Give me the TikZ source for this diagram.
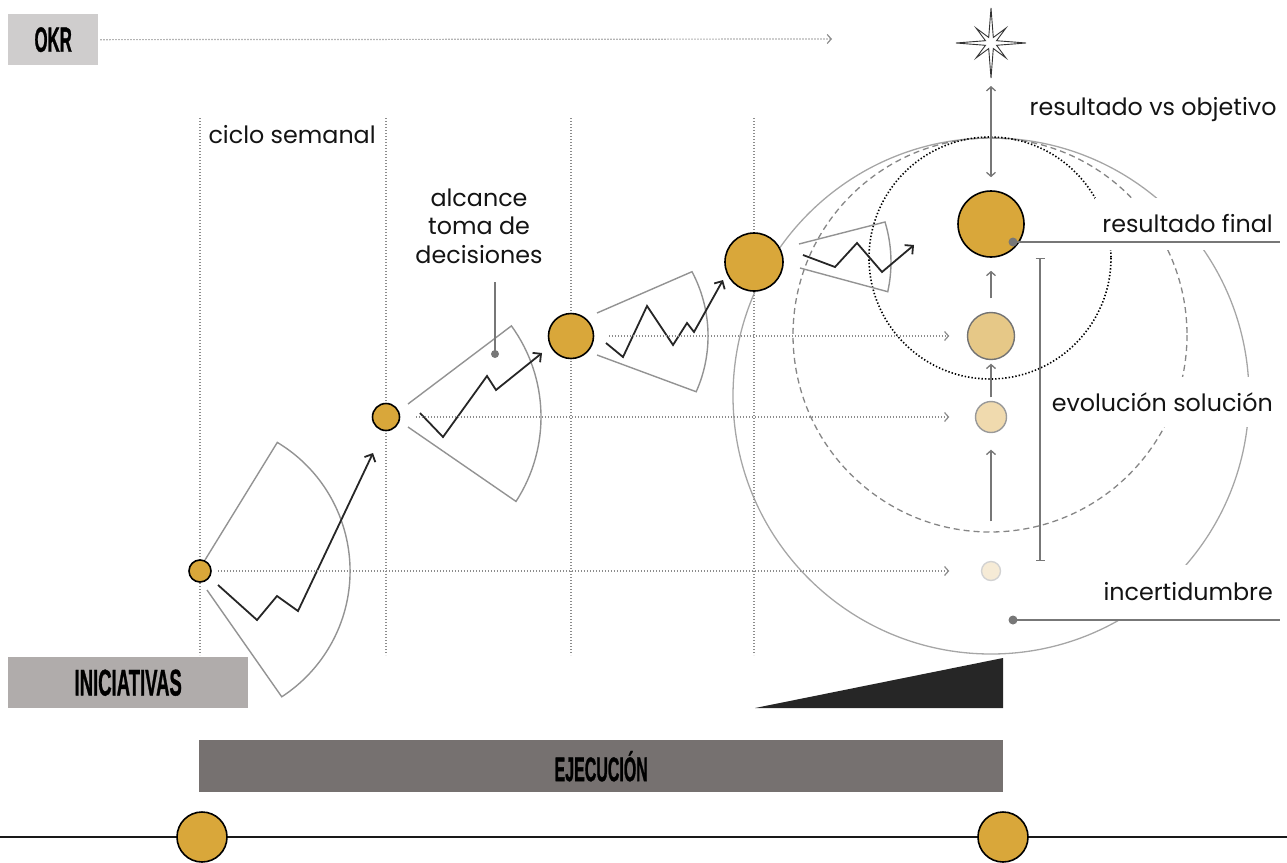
\documentclass[tikz,border=0pt]{standalone}
\usepackage{fontspec}
\setmainfont{Poppins}
\newfontfamily\headfont{Liberation Sans}[BoldFeatures={FakeBold=1.3}]
\usetikzlibrary{arrows.meta}
\definecolor{gold}{HTML}{D9A73A}
\definecolor{goldA}{HTML}{E6C887}
\definecolor{goldB}{HTML}{F0DAAE}
\definecolor{goldC}{HTML}{F6EBD6}
\definecolor{okrgray}{HTML}{CFCDCD}
\definecolor{inigray}{HTML}{B0ACAB}
\definecolor{ejegray}{HTML}{767170}
\definecolor{trigray}{HTML}{262626}
\definecolor{lgray}{HTML}{8C8C8C}
\definecolor{mgray}{HTML}{777777}
\newcommand{\hdr}[3]{\scalebox{#2}[1]{\headfont\bfseries\fontsize{#1}{#1}\selectfont #3}}
\begin{document}
\begin{tikzpicture}[x=1pt,y=-1pt,
  dot/.style={circle, draw=black, line width=1.6pt, fill=gold, inner sep=0pt},
  softdot/.style={circle, line width=1.4pt, inner sep=0pt},
  lbl/.style={font=\fontsize{23.8}{28.5}\selectfont, text=black!92},
  sidelbl/.style={lbl, anchor=east, fill=white, inner xsep=7pt},
  vline/.style={draw=lgray, line width=1.2pt, dash pattern=on 1.2pt off 1.8pt},
  harrow/.style={draw=lgray, line width=1.2pt, dash pattern=on 1.2pt off 1.8pt, -{Straight Barb[length=4pt,width=9pt,line width=1.2pt]}},
  garrow/.style={draw=mgray, line width=1.3pt, -{Straight Barb[length=4pt,width=9pt,line width=1.3pt]}},
  fan/.style={draw=gray!85, line width=1.4pt},
  zig/.style={draw=black!85, line width=1.8pt, -{Straight Barb[length=6pt,width=12pt,line width=1.8pt]}},
  leader/.style={draw=mgray, line width=1.5pt},
  hbox/.style={inner sep=0pt, anchor=north west}
]
\useasboundingbox (0,0) rectangle (1287,862);

% big circles
\draw[draw=gray!70, line width=1.3pt] (991,396) circle[radius=258];
\draw[draw=gray!95, line width=1.3pt, dash pattern=on 6pt off 4pt] (990,335) circle[radius=197];
\draw[draw=black, line width=1.6pt, dash pattern=on 1.4pt off 2pt] (990,258) circle[radius=121];

% vertical week lines
\foreach \x in {200,386,571,754} \draw[vline] (\x,118) -- (\x,655);

% fans
\draw[fan] (205,560) -- (277.3,442.4) arc[start angle=-59, end angle=57, radius=150] -- (207,590);
\draw[fan] (408,404) -- (511.4,325.9) arc[start angle=-36, end angle=33, radius=155] -- (408,427);
\draw[fan] (597,313) -- (692,271.7) arc[start angle=-28, end angle=24, radius=137] -- (597,355);
\draw[fan] (799,244) -- (885,222) arc[start angle=-17, end angle=12.5, radius=137] -- (800,268);

% zigzag progress arrows
\draw[zig] (218,585) -- (257,620) -- (277,596) -- (298,611) -- (373,453);
\draw[zig] (420,413) -- (443,437) -- (487,376) -- (496,390) -- (542,353);
\draw[zig] (606,343) -- (623,357) -- (647,306) -- (673,345) -- (687,323) -- (694,332) -- (723,280);
\draw[zig] (803,255) -- (835,267) -- (857,243) -- (882,272) -- (914,245);

% OKR header
\node[hbox, fill=okrgray, minimum width=90pt, minimum height=51pt] (okr) at (8,14) {\hdr{35}{0.48}{OKR}};
\coordinate (okrEnd) at (832,39);
\draw[harrow, shorten <=2pt] (okr) -- (okrEnd);

% star
\coordinate (star) at (991,43);
\draw[black!80, line width=0.9pt, fill=white, shift={(991,43)}]
  (0:35) -- (22.5:6) -- (45:21) -- (67.5:6) -- (90:35) -- (112.5:6) -- (135:21) -- (157.5:6)
  -- (180:35) -- (202.5:6) -- (225:21) -- (247.5:6) -- (270:35) -- (292.5:6) -- (315:21) -- (337.5:6) -- cycle;

% gold milestones
\node[dot, minimum size=22pt] (A) at (200,571) {};
\node[dot, minimum size=27pt] (B) at (386,417) {};
\node[dot, minimum size=45pt] (C) at (571,336) {};
\node[dot, minimum size=58pt] (D) at (754,262) {};
\node[dot, minimum size=66pt] (E) at (991,224) {};
\node[softdot, draw=gray!110, fill=goldA, minimum size=47pt] (F) at (991,336) {};
\node[softdot, draw=gray!80, fill=goldB, minimum size=31pt] (G) at (991,417) {};
\node[softdot, draw=gray!35, fill=goldC, minimum size=19pt] (H) at (991,571) {};

% horizontal projections
\draw[harrow, shorten <=6pt, shorten >=31.5pt] (A) -- (H);
\draw[harrow, shorten <=15.5pt, shorten >=25.5pt] (B) -- (G);
\draw[harrow, shorten <=14.5pt, shorten >=17.5pt] (C) -- (F);

% vertical evolution arrows
\draw[garrow, shorten <=39.5pt, shorten >=16.5pt] (H) -- (G);
\draw[garrow, shorten <=3.5pt, shorten >=3.5pt] (G) -- (F);
\draw[garrow, shorten <=13.5pt, shorten >=13pt] (F) -- (E);
\draw[draw=mgray, line width=1.3pt, {Straight Barb[length=4pt,width=9pt,line width=1.3pt]}-{Straight Barb[length=4pt,width=9pt,line width=1.3pt]}, shorten <=43pt, shorten >=13pt] (star) -- (E);

% range bar
\coordinate (rTop) at (1040,258);
\coordinate (rBot) at (1040,561);
\draw[draw=mgray, line width=1.3pt, {Bar[width=9pt]}-{Bar[width=9pt]}] (rTop) -- (rBot);

% labels
\node[lbl, anchor=west] (cs) at (205,135) {ciclo semanal};
\node[lbl, align=center] (alc) at (479,226) {alcance\\toma de\\decisiones};
\coordinate (alcT) at (495,282);
\coordinate (alcDot) at (495,354);
\draw[leader] (alcT) -- (alcDot);
\fill[mgray] (alcDot) circle[radius=4];

\node[lbl, anchor=east] (rvo) at (1280,110) {resultado vs objetivo};
\node[sidelbl, minimum height=52pt] (rf) at (1280,224) {resultado final};
\node[sidelbl, minimum height=50pt] (evo) at (1280,402) {evolución solución};
\node[sidelbl, minimum height=54pt] (inc) at (1280,592) {incertidumbre};

\coordinate (eDot) at (1013,242);
\coordinate (eEnd) at (1280,242);
\draw[leader] (eDot) -- (eEnd);
\fill[mgray] (eDot) circle[radius=4.5];
\coordinate (iDot) at (1013,620);
\coordinate (iEnd) at (1280,620);
\draw[leader] (iDot) -- (iEnd);
\fill[mgray] (iDot) circle[radius=4.5];

% bottom bars
\node[hbox, fill=inigray, minimum width=240pt, minimum height=51pt] (ini) at (8,657) {\hdr{37}{0.5}{INICIATIVAS}};
\fill[trigray] (755,708) -- (1003,708) -- (1003,658) -- cycle;
\node[hbox, fill=ejegray, minimum width=804pt, minimum height=52pt] (eje) at (199,740) {\hdr{34}{0.47}{EJECUCIÓN}};

% timeline
\coordinate (tlL) at (0,837);
\coordinate (tlR) at (1287,837);
\draw[line width=2.5pt, black!90] (tlL) -- (tlR);
\node[dot, minimum size=50pt] (T1) at (202,837) {};
\node[dot, minimum size=50pt] (T2) at (1003,837) {};
\end{tikzpicture}
\end{document}
